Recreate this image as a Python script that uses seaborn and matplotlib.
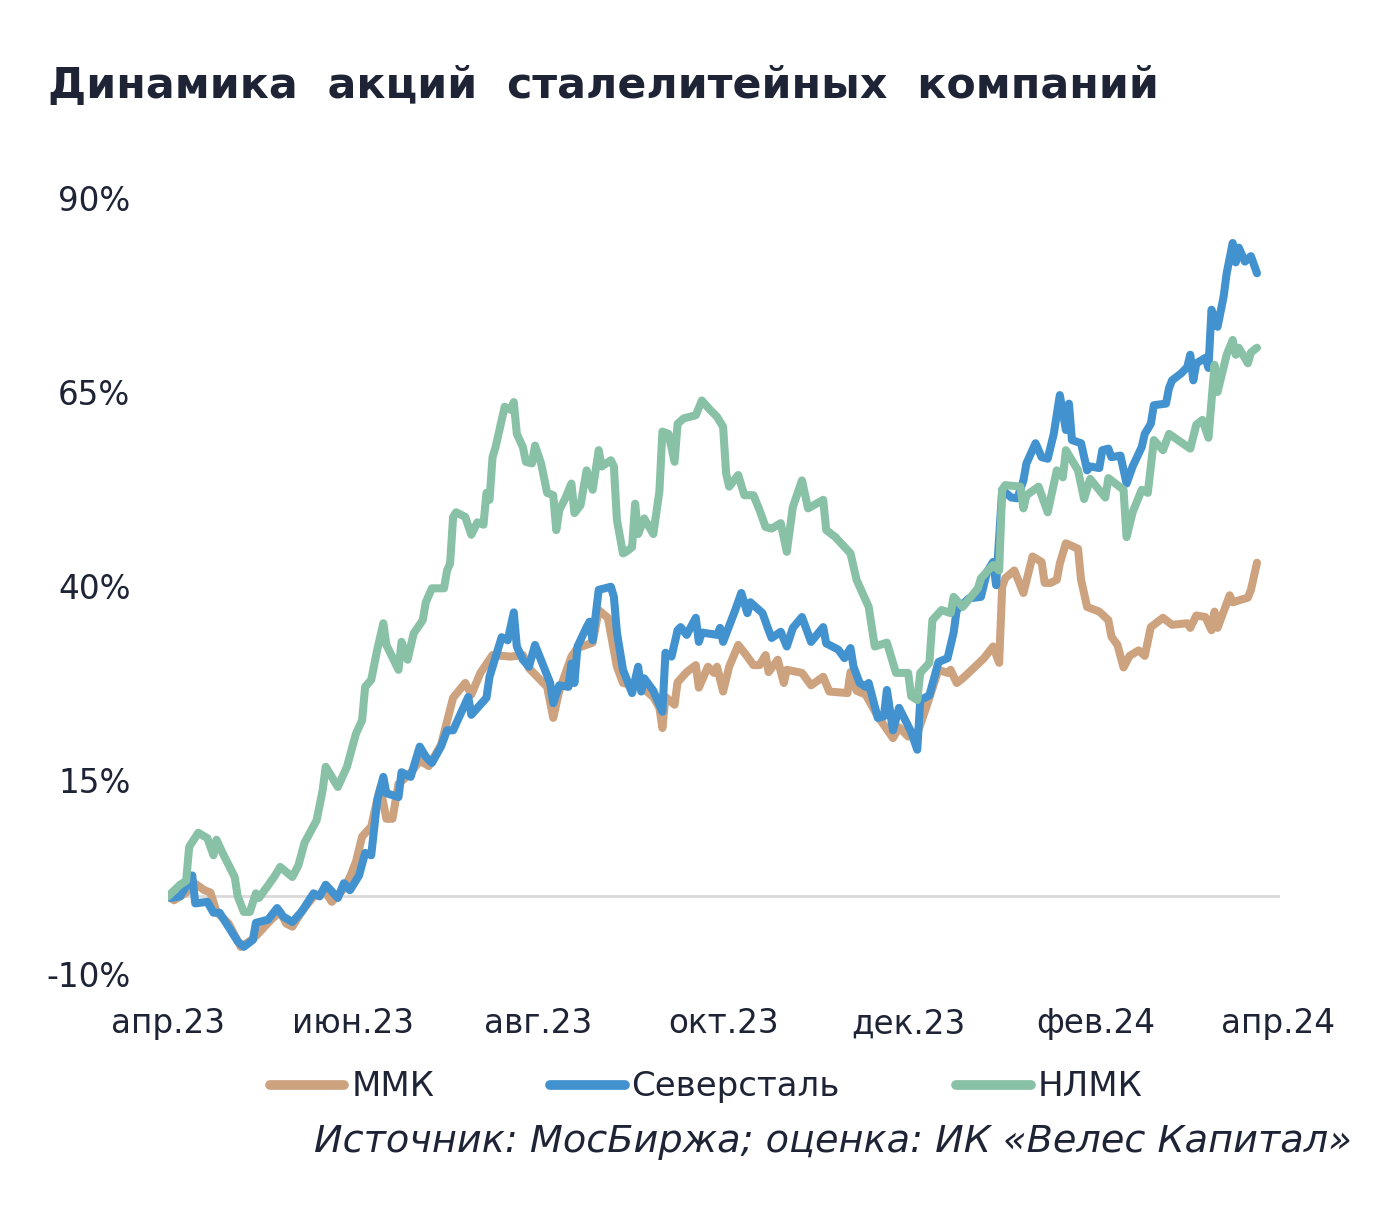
import pandas as pd
import matplotlib
matplotlib.use("Agg")
import matplotlib.pyplot as plt
import seaborn as sns

# days since 2023-04-01, cumulative change in %
mmk_days = [0, 2, 6, 8, 12, 14, 16, 20, 24, 28, 30, 34, 37, 39, 41, 44, 48, 52, 54, 58,
            60, 62, 64, 67, 69, 70, 72, 74, 76, 80, 83, 86, 90, 94, 98, 100, 103, 107, 113, 117,
            119, 125, 127, 129, 133, 135, 140, 142, 145, 148, 150, 156, 160, 162, 163, 164, 167, 168, 171, 174,
            175, 178, 180, 181, 183, 185, 188, 191, 193, 195, 197, 198, 201, 203, 204, 209, 212, 216, 218, 224,
            225, 227, 230, 234, 239, 241, 244, 247, 250, 254, 257, 258, 260, 262, 265, 269, 272, 274, 275, 276,
            279, 282, 285, 288, 289, 291, 293, 294, 296, 300, 301, 303, 307, 310, 311, 313, 315, 317, 320, 322,
            324, 328, 331, 336, 337, 339, 342, 344, 345, 346, 350, 351, 356, 357, 359]
mmk_vals = [0, -0.5, 0.5, 1.9, 0.8, 0.5, -2, -3.5, -6.5, -5.5, -4.7, -3, -2, -3.5, -3.9, -2, 0, 0.5, -0.7, 1,
            2.5, 4.5, 7.7, 9, 12.5, 14, 10, 10, 14.5, 15.9, 17.5, 16.8, 19.5, 25.6, 27.5, 26, 28.8, 31.1, 30.9, 31.1,
            29.4, 27, 23, 26.5, 30.9, 32, 32.7, 36.9, 35.9, 29.6, 27.5, 27, 25.7, 24.3, 21.7, 25.7, 24.7, 27.6, 28.9, 29.8,
            26.9, 29.6, 28.8, 29.6, 26.4, 29.6, 32.4, 30.9, 29.8, 29.8, 31.1, 28.9, 30.5, 27.5, 29.2, 28.8, 27.2, 28.3, 26.4, 26.2,
            28.9, 26.5, 26, 23.2, 20.4, 21.8, 20.6, 21, 24.4, 29.2, 28.8, 29.2, 27.5, 28.1, 29.2, 30.7, 32.2, 30.1, 39.9, 41,
            42, 39.1, 43.8, 43.1, 40.4, 40.4, 40.8, 42.9, 45.5, 44.8, 40.8, 37.3, 36.7, 35.6, 33.5, 32.4, 29.5, 31, 31.7, 31,
            34.7, 35.9, 35, 35.2, 34.6, 36.2, 36, 34.3, 36.7, 34.6, 38.8, 37.9, 38.5, 39.5, 43]

sev_days = [0, 1, 4, 8, 9, 13, 15, 17, 23, 25, 28, 29, 33, 36, 38, 41, 44, 48, 50, 52,
            56, 58, 60, 63, 65, 67, 69, 71, 72, 76, 77, 80, 83, 85, 87, 90, 92, 94, 99, 100,
            105, 106, 110, 112, 114, 115, 117, 119, 121, 126, 127, 129, 132, 133, 134, 135, 138, 139, 140, 142,
            146, 147, 148, 150, 153, 155, 156, 157, 160, 163, 164, 166, 168, 169, 171, 174, 175, 176, 181, 182,
            183, 187, 189, 191, 192, 196, 198, 199, 202, 204, 206, 209, 212, 216, 217, 221, 223, 225, 226, 228,
            230, 231, 234, 236, 237, 239, 241, 245, 247, 248, 251, 254, 257, 259, 260, 264, 268, 270, 272, 273,
            275, 278, 280, 282, 283, 286, 288, 290, 292, 294, 296, 297, 298, 301, 303, 304, 307, 308, 310, 311,
            314, 316, 318, 321, 322, 324, 325, 329, 330, 331, 334, 336, 337, 338, 339, 342, 343, 344, 346, 348,
            349, 351, 352, 353, 355, 357, 359]
sev_vals = [0, -0.2, 0, 2.7, -0.9, -0.7, -2.1, -2.1, -5.8, -6.5, -5.6, -3.4, -3, -1.5, -2.6, -3.3, -2, 0.4, 0, 1.5,
            -0.2, 1.7, 0.8, 2.7, 5.6, 5.3, 12.4, 15.4, 13.3, 12.8, 16, 15.4, 19.3, 18, 17.2, 19.3, 21.4, 21.4, 25.7, 23.4,
            25.6, 28.3, 33.4, 33, 36.6, 32.2, 30.5, 29.6, 32.4, 27.5, 24.9, 27.2, 27, 30, 27.5, 32.2, 34.7, 35.4, 33, 39.5,
            39.9, 38.6, 34, 29.2, 26.2, 29.6, 26.4, 28.1, 26.5, 23.8, 31.4, 30.9, 34.3, 34.7, 33.7, 35.9, 32.8, 34, 33.7, 34.6,
            32.8, 36.9, 39.1, 36.5, 37.9, 36.5, 34.3, 33.3, 34.1, 32.2, 34.6, 36, 32.8, 34.7, 32.6, 31.8, 30.7, 32, 29.6, 27.5,
            27, 27.5, 23, 23.2, 26.6, 21.4, 24.3, 21.2, 18.9, 25.3, 25.9, 30.2, 30.7, 34, 36.9, 38.4, 38.6, 41.8, 43.1, 40.1,
            52.4, 51.4, 51.3, 53.6, 55.8, 58.4, 56.6, 56.4, 59.6, 64.6, 60.1, 63.5, 58.8, 58.4, 54.9, 55.4, 55.2, 57.5, 57.7, 56.6,
            56.8, 53.2, 55.4, 57.9, 59.6, 60.9, 63.3, 63.5, 65.5, 66.5, 67.4, 68.2, 69.8, 66.5, 68.7, 69.4, 68.1, 75.6, 73.4, 77.3,
            80.3, 84.2, 81.7, 83.6, 81.8, 82.5, 80.3]

nlmk_days = [0, 4, 6, 7, 10, 13, 15, 16, 18, 22, 23, 25, 27, 29, 30, 35, 37, 41, 43, 45,
             49, 51, 52, 56, 59, 62, 64, 65, 67, 69, 71, 72, 76, 77, 79, 81, 84, 85, 87, 91,
             92, 93, 94, 95, 98, 100, 102, 104, 105, 106, 107, 108, 111, 113, 114, 115, 117, 118, 120, 121,
             123, 125, 127, 128, 129, 131, 133, 134, 136, 138, 140, 142, 143, 146, 147, 148, 150, 151, 153, 154,
             155, 157, 160, 162, 163, 165, 167, 168, 170, 174, 176, 178, 181, 183, 184, 185, 188, 190, 193, 195,
             197, 199, 202, 204, 206, 209, 211, 216, 217, 220, 225, 227, 231, 233, 237, 240, 244, 245, 247, 248,
             251, 252, 255, 258, 259, 262, 267, 268, 272, 274, 275, 276, 281, 282, 283, 287, 290, 293, 295, 296,
             300, 302, 304, 309, 310, 313, 315, 316, 318, 321, 323, 325, 328, 330, 337, 339, 341, 343, 345, 346,
             349, 351, 352, 353, 356, 357, 359]
nlmk_vals = [0, 1.5, 2, 6.4, 8.2, 7.5, 5.3, 7.3, 5.6, 2.5, 0, -2, -2, 0.4, -0.2, 2.5, 3.8, 2.5, 4, 6.9,
             9.8, 13.7, 16.7, 14.1, 16.7, 21, 22.7, 27, 27.9, 31.8, 35.2, 32.4, 29.2, 32.8, 30.5, 33.9, 35.6, 37.9, 39.7, 39.7,
             42, 42.9, 48.9, 49.5, 48.9, 46.6, 48.2, 47.9, 52, 51.1, 56.6, 57.9, 63.1, 62.7, 63.7, 59.6, 57.9, 56, 55.8, 58.1,
             55.8, 52, 51.7, 47.2, 49.8, 51.3, 53.2, 49.4, 50.4, 54.9, 52.4, 57.5, 55.4, 56.2, 55.4, 48.5, 44.2, 44.4, 45, 50.6,
             46.7, 48.7, 46.7, 52.2, 59.9, 59.6, 56, 60.9, 61.6, 62, 63.9, 63, 61.8, 60.5, 54.5, 52.8, 54.3, 51.7, 51.7, 49.8,
             47.6, 47.4, 48.1, 44.4, 50.2, 53.6, 50, 51.1, 47.2, 46.3, 44.2, 40.8, 37.3, 32.2, 32.7, 28.8, 28.8, 25.8, 25.3, 28.8,
             30.1, 35.6, 36.9, 36.5, 38.6, 37.3, 39.7, 41, 42.7, 42, 52.4, 53, 52.8, 50, 51.7, 52.8, 49.5, 54.9, 54, 57.5,
             54.9, 51.2, 53.8, 51.4, 53.9, 53, 52.4, 46.3, 49.5, 52.4, 52, 58.8, 57.5, 59.6, 57.7, 60.8, 61.4, 59.1, 68.5, 65,
             69.8, 71.7, 69.8, 70.7, 68.7, 70.1, 70.7]

companies = ["ММК", "Северсталь", "НЛМК"]
colors = ["#CDA27F", "#4392D0", "#88C1A5"]
tick_dates = ["2023-04-01", "2023-06-01", "2023-08-01", "2023-10-01",
              "2023-12-01", "2024-02-01", "2024-04-01"]
tick_labels = ["апр.23", "июн.23", "авг.23", "окт.23", "дек.23", "фев.24", "апр.24"]
y_ticks = [-10, 15, 40, 65, 90]

start = pd.Timestamp("2023-04-01")
frames = []
for name, days, vals in zip(companies, [mmk_days, sev_days, nlmk_days],
                            [mmk_vals, sev_vals, nlmk_vals]):
    frames.append(pd.DataFrame({"date": start + pd.to_timedelta(days, unit="D"),
                                "value": vals, "company": name}))
df = pd.concat(frames, ignore_index=True)

sns.set_theme(style="white")
plt.rcParams["font.family"] = ["DejaVu Sans"]
text_color = "#1E2436"

fig = plt.figure(figsize=(13.95, 12.05), dpi=100)
ax = fig.add_axes([0.1204, 0.1917, 0.7972, 0.644])

ax.axhline(0, color="#D9D9D9", lw=2, zorder=0)
sns.lineplot(data=df, x="date", y="value", hue="company", hue_order=companies,
             palette=colors, linewidth=5.8, legend=False, ax=ax,
             solid_joinstyle="round", solid_capstyle="round")

ax.set_ylim(-10, 90)
ax.set_yticks(y_ticks)
ax.set_yticklabels([f"{v}%" for v in y_ticks])
ax.set_xlim(start, start + pd.Timedelta(days=366.6))
ax.set_xticks(pd.to_datetime(tick_dates))
ax.set_xticklabels(tick_labels)
ax.set_xlabel("")
ax.set_ylabel("")
for s in ax.spines.values():
    s.set_visible(False)
ax.tick_params(axis="y", length=0, pad=27, labelsize=23.5, labelcolor=text_color)
ax.tick_params(axis="x", length=0, pad=24, labelsize=23.5, labelcolor=text_color)

handles = [plt.Line2D([], [], color=c, lw=7, solid_capstyle="round") for c in colors]
fig.legend(handles, companies, loc="center", bbox_to_anchor=(0.506, 0.098), ncol=3,
           frameon=False, fontsize=24.5, handlelength=2.2, handletextpad=0.2,
           columnspacing=3.4, labelcolor=text_color)

fig.text(0.0344, 0.929, "Динамика  акций  сталелитейных  компаний", ha="left", va="center",
         fontsize=30.8, fontweight="bold", color=text_color)
fig.text(0.969, 0.052, "Источник: МосБиржа; оценка: ИК «Велес Капитал»", ha="right",
         va="center", fontsize=27.5, style="italic", color=text_color)

fig.savefig("out.png", dpi=100)
